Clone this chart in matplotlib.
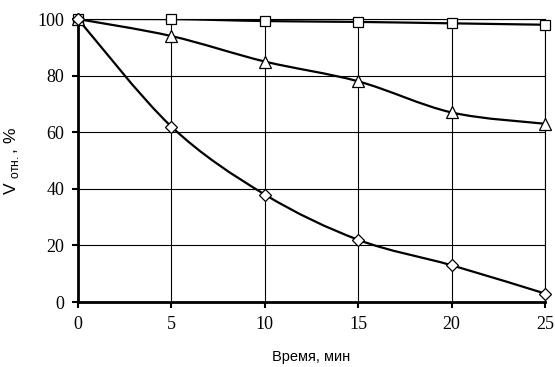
import numpy as np
import matplotlib.pyplot as plt
from matplotlib.path import Path
from matplotlib.patches import PathPatch

# data
time_min = [0, 5, 10, 15, 20, 25]
v_square = [100, 100, 99.3, 99, 98.5, 98]
v_triangle = [100, 94, 85, 78, 67, 63]
v_diamond = [100, 62, 38, 22, 13, 3]


def smooth_path(x, y, k=1/6):
    # Excel-like smoothed line: cubic bezier segments through the points
    x = np.asarray(x, float)
    y = np.asarray(y, float)
    verts = [(x[0], y[0])]
    codes = [Path.MOVETO]
    n = len(x)
    for i in range(n - 1):
        x0, y0 = (x[i - 1], y[i - 1]) if i > 0 else (x[i], y[i])
        x3, y3 = (x[i + 2], y[i + 2]) if i + 2 < n else (x[i + 1], y[i + 1])
        c1 = (x[i] + (x[i + 1] - x0) * k, y[i] + (y[i + 1] - y0) * k)
        c2 = (x[i + 1] - (x3 - x[i]) * k, y[i + 1] - (y3 - y[i]) * k)
        verts += [c1, c2, (x[i + 1], y[i + 1])]
        codes += [Path.CURVE4] * 3
    return Path(verts, codes)


fig = plt.figure(figsize=(5.55, 3.67), dpi=100)
ax = fig.add_axes([0.1405, 0.177, 0.8415, 0.771])

for vals, marker, ms in [(v_square, "s", 7), (v_triangle, "^", 8), (v_diamond, "D", 6)]:
    ax.add_patch(PathPatch(smooth_path(time_min, vals), fill=False,
                           edgecolor="black", linewidth=1.6, zorder=3))
    ax.plot(time_min, vals, linestyle="none", marker=marker, markersize=ms,
            markerfacecolor="white", markeredgecolor="black",
            markeredgewidth=0.9, zorder=4, clip_on=False)

ax.set_xlim(0, 25)
ax.set_ylim(0, 100)
ax.set_xticks(time_min)
ax.set_yticks([0, 20, 40, 60, 80, 100])
ax.grid(True, color="black", linewidth=0.8)
ax.set_axisbelow(True)

for side in ["top", "right"]:
    ax.spines[side].set_linewidth(0.8)
for side in ["left", "bottom"]:
    ax.spines[side].set_linewidth(2)

ax.tick_params(direction="out", length=4, width=1.5, color="black", pad=6)
for lab in ax.get_xticklabels() + ax.get_yticklabels():
    lab.set_fontfamily("Liberation Serif")
    lab.set_fontsize(13)

ax.set_xlabel("Время, мин", fontfamily="Liberation Sans", fontsize=10.5, labelpad=12)
ax.set_ylabel(r"V $_{\mathregular{отн.}}$, %", fontfamily="Liberation Sans",
              fontsize=12.5, labelpad=12)

fig.savefig("out.png", dpi=100)
